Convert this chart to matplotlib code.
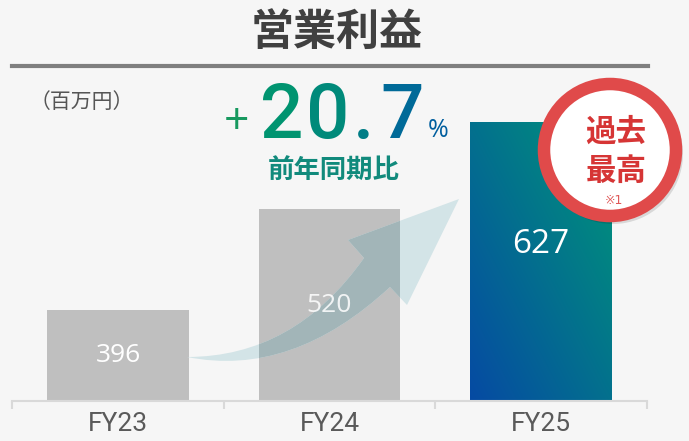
import numpy as np
import matplotlib.pyplot as plt
from matplotlib.patches import Circle, PathPatch
from matplotlib.path import Path
from matplotlib.transforms import Affine2D

plt.rcParams['font.family'] = ['Noto Sans CJK JP', 'DejaVu Sans']

# data
years = ['FY23', 'FY24', 'FY25']
profit = [396, 520, 627]
growth = '+20.7%'

W, H = 689, 441
BG = '#f6f6f6'
Y0 = 284

fig = plt.figure(figsize=(W / 100, H / 100), dpi=100, facecolor=BG)
# pixel coordinates, origin top-left
px = Affine2D().scale(1 / W, -1 / H).translate(0, 1) + fig.transFigure

ax = fig.add_axes([12.25 / W, (H - 401) / H, 634.5 / W, 341 / H])
ax.set_facecolor(BG)
x = np.arange(len(years))
bars = ax.bar(x, profit, width=0.667, color='#bfbfbf', zorder=2)
ax.set_xlim(-0.5, 2.5)
ax.set_ylim(Y0, Y0 + 341 / 0.813)

# gradient for last bar
b = bars[2]
bx, bw, bh = b.get_x(), b.get_width(), b.get_height()
b.set_facecolor('none')
u = np.linspace(0, 1, 200)
uu, vv = np.meshgrid(u, u)
t = (uu + vv) / 2
blue = np.array([0x06, 0x4a, 0xa3]) / 255
green = np.array([0x00, 0x97, 0x78]) / 255
img = blue[None, None, :] * (1 - t[..., None]) + green[None, None, :] * t[..., None]
im = ax.imshow(img, extent=[bx, bx + bw, Y0, bh], origin='lower', aspect='auto', zorder=2)
im.set_clip_path(b)

for s in ['top', 'right', 'left']:
    ax.spines[s].set_visible(False)
ax.spines['bottom'].set_color('#d9d9d9')
ax.spines['bottom'].set_linewidth(1.5)
ax.spines['bottom'].set_zorder(4)
ax.set_yticks([])
ax.set_xticks(x)
ax.set_xticklabels(years, fontsize=19, color='#5a5a5a', family='Roboto')
ax.tick_params(axis='x', which='major', length=0, pad=8)
ax.set_xticks([-0.5, 0.5, 1.5, 2.5], minor=True)
ax.tick_params(axis='x', which='minor', length=6, width=1.5, color='#d9d9d9', direction='out')

# growth arrow
verts = [(187, 357), (294, 357), (364, 258), (348, 240), (459, 199), (407, 305),
         (390, 287), (292, 378), (187, 357), (187, 357)]
codes = [Path.MOVETO, Path.CURVE3, Path.CURVE3, Path.LINETO, Path.LINETO, Path.LINETO,
         Path.LINETO, Path.CURVE3, Path.CURVE3, Path.CLOSEPOLY]
arrow = Path(verts, codes)
ax.add_patch(PathPatch(arrow, transform=px, facecolor='#d3e4e7', edgecolor='none',
                       zorder=3, clip_on=False))
dark = PathPatch(arrow, transform=px, facecolor='#a2b5b8', edgecolor='none', zorder=3)
ax.add_patch(dark)
dark.set_clip_path(bars[1])

# value labels
for i, v in enumerate(profit):
    frac = 0.56 if i == 2 else 0.5
    ax.text(x[i], Y0 + (v - Y0) * frac, f'{v}', ha='center', va='center',
            color='white', alpha=1 if i != 1 else 0.85,
            fontsize=24 if i == 2 else 19, family='Open Sans', zorder=5)

# title
fig.text(337, 32, '営業利益', transform=px, ha='center', va='center', fontsize=31,
         fontweight='bold', color='#404040')
fig.add_artist(plt.Line2D([12, 648], [66, 66], transform=px, color='#7f7f7f', lw=3))
fig.text(30, 102, '（百万円）', transform=px, ha='left', va='center', fontsize=15,
         color='#555555')

# growth text
fig.text(236, 134, growth[0], transform=px, ha='center', va='baseline', fontsize=32,
         color='#17995f', family='Open Sans')
chars = list(growth[1:-1])
cx = [282, 328, 364, 402]
cols = ['#009470', '#008a7a', '#007d86', '#006a98']
for c, xx, col in zip(chars, cx, cols):
    fig.text(xx, 138, c, transform=px, ha='center', va='baseline', fontsize=55,
             fontweight='medium', color=col, family='Roboto')
fig.text(438, 137, growth[-1], transform=px, ha='center', va='baseline', fontsize=18,
         color='#005e9e', family='Open Sans')
fig.text(334, 170, '前年同期比', transform=px, ha='center', va='center', fontsize=19,
         fontweight='bold', color='#118a7c')

# record badge
ax.add_patch(Circle((613, 154), 70, transform=px, facecolor='#000000', alpha=0.12,
                    edgecolor='none', zorder=6, clip_on=False))
ax.add_patch(Circle((610, 150), 66, transform=px, facecolor='white', edgecolor='#e04a4a',
                    lw=9, zorder=7, clip_on=False))
ax.text(616, 132, '過去', transform=px, ha='center', va='center', fontsize=22,
        fontweight='bold', color='#d63535', zorder=8)
ax.text(616, 171, '最高', transform=px, ha='center', va='center', fontsize=22,
        fontweight='bold', color='#d63535', zorder=8)
ax.text(614, 200, '※1', transform=px, ha='center', va='center', fontsize=9,
        color='#e05a5a', zorder=8, family=['DejaVu Sans', 'Noto Sans CJK JP'])

fig.savefig('out.png', dpi=100, facecolor=BG)
